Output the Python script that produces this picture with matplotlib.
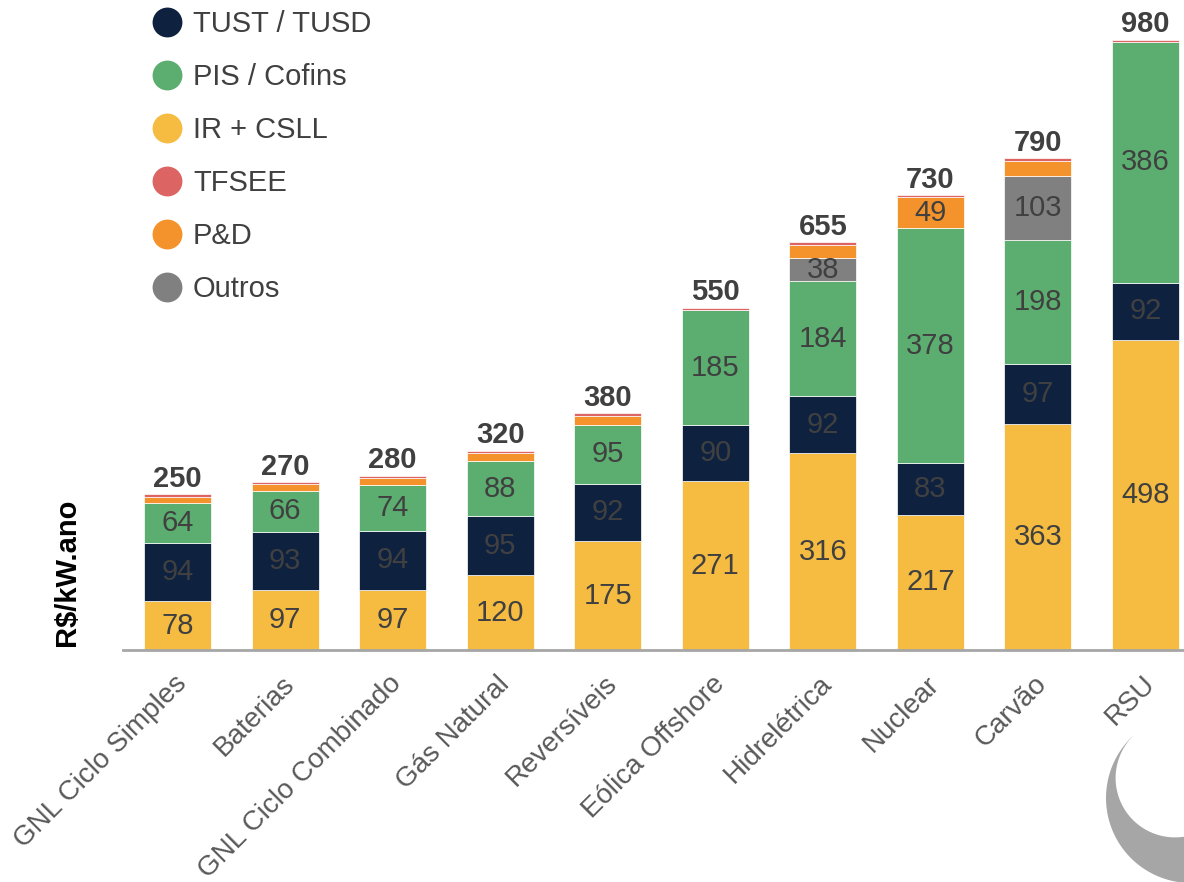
import matplotlib
matplotlib.use("Agg")
import numpy as np
import matplotlib.pyplot as plt
from matplotlib.lines import Line2D
from matplotlib.patches import Polygon
from matplotlib.transforms import ScaledTranslation

plt.rcParams["font.family"] = ["Liberation Sans", "DejaVu Sans"]

categories = ["GNL Ciclo Simples", "Baterias", "GNL Ciclo Combinado", "Gás Natural",
              "Reversíveis", "Eólica Offshore", "Hidrelétrica", "Nuclear", "Carvão", "RSU"]
ir_csll = [78, 97, 97, 120, 175, 271, 316, 217, 363, 498]
tust_tusd = [94, 93, 94, 95, 92, 90, 92, 83, 97, 92]
pis_cofins = [64, 66, 74, 88, 95, 185, 184, 378, 198, 386]
outros = [0, 0, 0, 0, 0, 0, 38, 0, 103, 0]
p_d = [10, 10, 11, 13, 14, 0, 21, 49, 25, 0]
tfsee = [4, 4, 4, 4, 4, 4, 4, 3, 4, 4]
totals = [250, 270, 280, 320, 380, 550, 655, 730, 790, 980]

C_TUST = "#0e2240"
C_PIS = "#5bae6f"
C_IR = "#f5bc41"
C_TFSEE = "#dc6462"
C_PD = "#f4922b"
C_OUT = "#808080"
TXT = "#404040"

# stacking order, bottom -> top
stack = [
    (ir_csll, C_IR),
    (tust_tusd, C_TUST),
    (pis_cofins, C_PIS),
    (outros, C_OUT),
    (p_d, C_PD),
    (tfsee, C_TFSEE),
]
legend_items = [
    ("TUST / TUSD", C_TUST),
    ("PIS / Cofins", C_PIS),
    ("IR + CSLL", C_IR),
    ("TFSEE", C_TFSEE),
    ("P&D", C_PD),
    ("Outros", C_OUT),
]

W, H = 1184, 882
fig = plt.figure(figsize=(W / 100, H / 100), dpi=100)
ax = fig.add_axes([123 / W, 1 - 650 / H, 1 - 123 / W, 650 / H])

x = np.arange(len(categories))
bottom = np.zeros(len(categories))
for vals, col in stack:
    vals = np.array(vals, dtype=float)
    ax.bar(x, vals, width=0.623, bottom=bottom, color=col,
           edgecolor="white", linewidth=0.5, zorder=2)
    for xi, b, v in zip(x, bottom, vals):
        if v >= 30:  # small slices (TFSEE, most P&D) carry no label
            ax.text(xi, b + v / 2, f"{int(v)}", ha="center", va="center",
                    fontsize=21, color=TXT, zorder=3)
    bottom += vals

for xi, top, tot in zip(x, bottom, totals):
    ax.annotate(f"{tot}", (xi, top), xytext=(0, 1), textcoords="offset points",
                ha="center", va="bottom", fontsize=21, fontweight="bold", color=TXT)

ax.set_xlim(-0.507, 9.358)
ax.set_ylim(0, 1044)
for s in ["top", "right", "left"]:
    ax.spines[s].set_visible(False)
ax.spines["bottom"].set_color("#a6a6a6")
ax.spines["bottom"].set_linewidth(2)
ax.set_yticks([])
ax.set_xticks(x, categories, rotation=45, ha="right", va="top",
              rotation_mode="anchor")
ax.tick_params(axis="x", length=0, pad=15, labelsize=20, labelcolor="#595959")
shift = ScaledTranslation(-4 / 100, 0, fig.dpi_scale_trans)
for lbl in ax.get_xticklabels():
    lbl.set_transform(lbl.get_transform() + shift)
ax.patch.set_alpha(0)

fig.text(67 / W, 1 - 572 / H, "R$/kW.ano", rotation=90, ha="center", va="center",
         fontsize=21, fontweight="bold", color="black")

# legend (manual, circle markers)
for i, (lab, col) in enumerate(legend_items):
    yy = 1 - (22 + 53 * i) / H
    fig.add_artist(Line2D([167 / W], [yy], marker="o", ms=21.5, mew=0,
                          color=col, transform=fig.transFigure))
    fig.text(193 / W, yy - 2 / H, lab, ha="left", va="center", fontsize=21, color=TXT)

# crescent logo, bottom right (pixel coords, y from top)
def arc(cx, cy, r, a0, a1):
    t = np.radians(np.linspace(a0, a1, 80))
    return np.column_stack([cx + r * np.cos(t), cy + r * np.sin(t)])

pts = np.vstack([arc(1191, 798, 85, 226, 40), arc(1175, 778, 59.4, 30, 226)])
pts = np.column_stack([pts[:, 0] / 100, (H - pts[:, 1]) / 100])
fig.add_artist(Polygon(pts, closed=True, transform=fig.dpi_scale_trans,
                       color="#a6a6a6", lw=0, zorder=-1))

fig.savefig("out.png", dpi=100)
